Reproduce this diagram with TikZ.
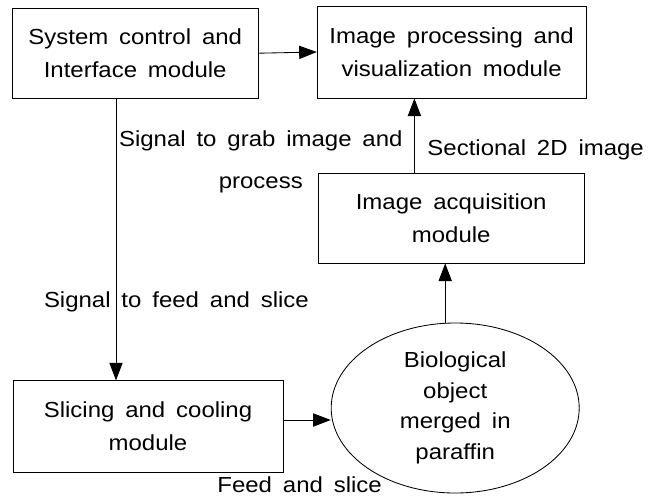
\documentclass[tikz,border=0pt]{standalone}
\usepackage{fontspec}
\setmainfont{Liberation Sans}[FakeStretch=1.1]
\usetikzlibrary{arrows.meta,shapes.geometric}
\newcommand\diagfont[1]{\fontsize{15.5}{#1}\selectfont\spaceskip=.5em plus .1em\relax}

\begin{document}
\begin{tikzpicture}[
      modbox/.style={draw, line width=0.6pt, inner sep=0pt, align=center,
                 font={\diagfont{23.5}}},
      blob/.style={ellipse, draw, line width=0.6pt, inner sep=0pt, align=center,
                 font={\diagfont{21.8}}},
      lbl/.style={inner sep=0pt, align=center, font={\diagfont{30}}},
      arr/.style={line width=0.6pt, -{Triangle[length=4.4mm, width=3.3mm]}}]
      \useasboundingbox (0,0) rectangle (16.525,12.4);

      % Modules
      \node[modbox, minimum width=6.14cm, minimum height=2.26cm] (sys) at (3.38,11.07)
        {System control and\\Interface module};
      \node[modbox, minimum width=6.72cm, minimum height=2.3cm] (proc) at (11.29,11.1)
        {Image processing and\\visualization module};
      \node[modbox, minimum width=6.65cm, minimum height=2.25cm] (acq) at (11.28,6.95)
        {Image acquisition\\module};
      \node[modbox, minimum width=6.75cm, minimum height=2.28cm] (slice) at (3.7,1.74)
        {Slicing and cooling\\module};
      \node[blob, minimum width=6.2cm, minimum height=4.25cm] (obj) at (11.38,2.2)
        {Biological\\object\\merged in\\paraffin};

      % Connectors
      \draw[arr] (sys.east) -- (proc.west);
      \draw[arr] ([xshift=-0.48cm]sys.south) -- ([xshift=-0.48cm]sys.south |- slice.north);
      \draw[arr] ([xshift=-0.92cm]acq.north) -- ([xshift=-0.92cm]acq.north |- proc.south);
      \draw[arr] ([yshift=0.16cm]slice.east) -- ([yshift=0.16cm]slice.east -| obj.west);
      \draw[arr] ([xshift=-0.25cm]obj.north) -- ([xshift=-0.25cm]obj.north |- acq.south);

      % Labels
      \node[lbl] (grab) at (6.52,8.36) {Signal to grab image and\\process};
      \node[lbl, anchor=west] (sect) at (10.68,8.65) {Sectional 2D image};
      \node[lbl] (feed) at (4.41,4.85) {Signal to feed and slice};
      \node[lbl] (cut) at (7.49,0.29) {Feed and slice};
    \end{tikzpicture}
\end{document}
